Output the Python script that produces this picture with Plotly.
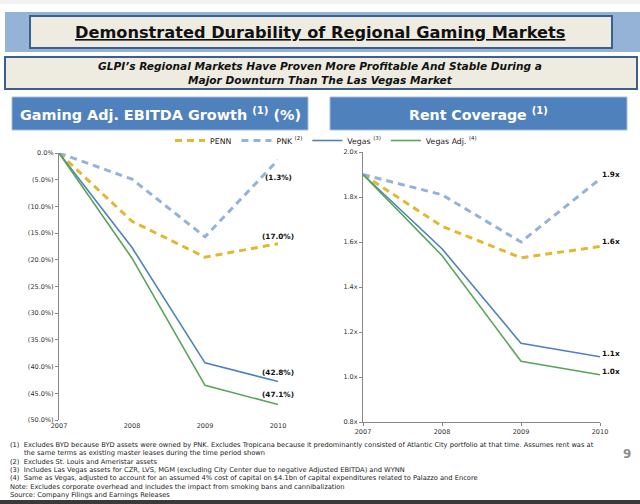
import plotly.graph_objects as go

# ---------------- data ----------------
years = [2007, 2008, 2009, 2010]

series_names = ["PENN", "PNK <sup>(2)</sup>", "Vegas <sup>(3)</sup>", "Vegas Adj. <sup>(4)</sup>"]

# Gaming Adj. EBITDA growth (%)
growth_penn = [0.0, -12.8, -19.5, -17.0]
growth_pnk = [0.0, -4.9, -15.7, -1.3]
growth_vegas = [0.0, -17.7, -39.3, -42.8]
growth_vegas_adj = [0.0, -19.7, -43.5, -47.1]
growth_labels = ["(17.0%)", "(1.3%)", "(42.8%)", "(47.1%)"]

# Rent coverage (x)
cov_penn = [1.90, 1.67, 1.53, 1.58]
cov_pnk = [1.90, 1.81, 1.60, 1.88]
cov_vegas = [1.90, 1.57, 1.15, 1.09]
cov_vegas_adj = [1.90, 1.54, 1.07, 1.01]
cov_labels = ["1.6x", "1.9x", "1.1x", "1.0x"]

growth_ticks = [0, -5, -10, -15, -20, -25, -30, -35, -40, -45, -50]
growth_ticktext = ["0.0%", "(5.0%)", "(10.0%)", "(15.0%)", "(20.0%)", "(25.0%)",
                   "(30.0%)", "(35.0%)", "(40.0%)", "(45.0%)", "(50.0%)"]
cov_ticks = [0.8, 1.0, 1.2, 1.4, 1.6, 1.8, 2.0]
cov_ticktext = ["0.8x", "1.0x", "1.2x", "1.4x", "1.6x", "1.8x", "2.0x"]
year_ticktext = ["2007", "2008", "2009", "2010"]

title_text = "Demonstrated Durability of Regional Gaming Markets"
subtitle_lines = ["GLPI\u2019s Regional Markets Have Proven More Profitable And Stable During a",
                  "Major Downturn Than The Las Vegas Market"]
left_header = "Gaming Adj. EBITDA Growth <sup>(1)</sup> (%)"
right_header = "Rent Coverage <sup>(1)</sup>"
footnotes = [
    ("(1)  Excludes BYD because BYD assets were owned by PNK. Excludes Tropicana because it predominantly consisted of Atlantic City portfolio at that time. Assumes rent was at", 0),
    ("the same terms as existing master leases during the time period shown", 1),
    ("(2)  Excludes St. Louis and Ameristar assets", 0),
    ("(3)  Includes Las Vegas assets for CZR, LVS, MGM (excluding City Center due to negative Adjusted EBITDA) and WYNN", 0),
    ("(4)  Same as Vegas, adjusted to account for an assumed 4% cost of capital on $4.1bn of capital expenditures related to Palazzo and Encore", 0),
    ("Note: Excludes corporate overhead and includes the impact from smoking bans and cannibalization", 0),
    ("Source: Company Filings and Earnings Releases", 0),
]
page_number = "9"

# ---------------- styling ----------------
W, H = 640, 504
FONT = "DejaVu Sans"
colors = ["#E2B833", "#95B3D7", "#4F81BD", "#5AA45A"]
dashes = ["7px,5px", "7px,5px", "solid", "solid"]
widths = [3, 3, 1.6, 1.6]
growth_label_shift = [7, -18, 9, 10]   # vertical offset of end labels (px, up positive)
cov_label_shift = [5, 5, 3, 3]


def px(x):
    return x / W


def py(y):
    return 1 - y / H


fig = go.Figure()

growth_series = [growth_penn, growth_pnk, growth_vegas, growth_vegas_adj]
cov_series = [cov_penn, cov_pnk, cov_vegas, cov_vegas_adj]

for i in range(4):
    fig.add_trace(go.Scatter(
        x=years, y=growth_series[i], name=series_names[i], mode="lines",
        line=dict(color=colors[i], width=widths[i], dash=dashes[i]),
        cliponaxis=False, xaxis="x", yaxis="y", showlegend=True,
    ))

for i in range(4):
    fig.add_trace(go.Scatter(
        x=years, y=cov_series[i], name=series_names[i], mode="lines",
        line=dict(color=colors[i], width=widths[i], dash=dashes[i]),
        cliponaxis=False, xaxis="x3", yaxis="y3", showlegend=False,
    ))

axis_font = dict(family=FONT, size=6.5, color="#333")
gray = "#888"

shapes = []


def rect(x0, y0, x1, y1, fill, line_color=None, lw=0):
    shapes.append(dict(type="rect", xref="paper", yref="paper",
                       x0=px(x0), x1=px(x1), y0=py(y1), y1=py(y0),
                       fillcolor=fill, layer="below",
                       line=dict(color=line_color or fill, width=lw)))


rect(0, 0, 640, 4, "#F2F2F2")
rect(5, 12, 640, 52, "#95B3D7")
rect(30, 16, 612, 48, "#EEECE1", "#3D5F8F", 2)
rect(5, 57, 637, 89, "#EEECE1", "#3D5F8F", 2)
rect(12, 97, 308, 130, "#4F81BD", "#A6BCDB", 1)
rect(330, 97, 627, 130, "#4F81BD", "#A6BCDB", 1)
rect(0, 500, 640, 504, "#3A3A3A")

annotations = [
    dict(text="<b><u>" + title_text + "</u></b>", x=px(320), y=py(32),
         font=dict(family=FONT, size=16.2, color="#111")),
    dict(text="<b><i>" + subtitle_lines[0] + "</i></b>", x=px(320), y=py(66),
         font=dict(family=FONT, size=10.6, color="#111")),
    dict(text="<b><i>" + subtitle_lines[1] + "</i></b>", x=px(320), y=py(80),
         font=dict(family=FONT, size=10.6, color="#111")),
    dict(text="<b>" + left_header + "</b>", x=px(160), y=py(114),
         font=dict(family=FONT, size=14.4, color="white")),
    dict(text="<b>" + right_header + "</b>", x=px(478), y=py(114),
         font=dict(family=FONT, size=14.2, color="white")),
    dict(text="<b>" + page_number + "</b>", x=px(627), y=py(454),
         font=dict(family=FONT, size=12, color="#8C8C8C")),
]
for k, (line, indent) in enumerate(footnotes):
    annotations.append(dict(text=line, x=px(8 + 14 * indent), y=py(445 + 8.3 * k),
                            xanchor="left", font=dict(family=FONT, size=6.7, color="#222")))
for a in annotations:
    a.update(xref="paper", yref="paper", showarrow=False)
    a.setdefault("xanchor", "center")
    a.setdefault("yanchor", "middle")

# end-of-line data labels, placed at the last data point of each series
for i in range(4):
    annotations.append(dict(
        text="<b>" + growth_labels[i] + "</b>", x=years[-1], y=growth_series[i][-1],
        xref="x", yref="y", showarrow=False, xanchor="center", yanchor="middle",
        yshift=growth_label_shift[i], font=dict(family=FONT, size=7.3, color="#111")))
    annotations.append(dict(
        text="<b>" + cov_labels[i] + "</b>", x=years[-1], y=cov_series[i][-1],
        xref="x3", yref="y3", showarrow=False, xanchor="left", yanchor="middle",
        yshift=cov_label_shift[i], font=dict(family=FONT, size=7.3, color="#111")))

fig.update_layout(
    width=W, height=H, margin=dict(l=0, r=0, t=0, b=0, autoexpand=False),
    paper_bgcolor="white", plot_bgcolor="white",
    font=dict(family=FONT),
    shapes=shapes, annotations=annotations,
    legend=dict(orientation="h", x=px(326), y=py(126), xanchor="center", yanchor="top",
                font=dict(family=FONT, size=7.8, color="#222"), bgcolor="rgba(0,0,0,0)",
                traceorder="normal", itemwidth=30, tracegroupgap=0),
    xaxis=dict(domain=[px(59), px(278)], range=[2007, 2010], tickvals=years,
               ticktext=year_ticktext, showline=False, showgrid=False, zeroline=False,
               ticks="", tickfont=axis_font, anchor="y", automargin=False),
    xaxis2=dict(overlaying="x", matches="x", side="top", anchor="y", showline=True,
                linecolor=gray, linewidth=1.2, ticks="outside", ticklen=3, tickcolor=gray,
                tickvals=years, showticklabels=False, showgrid=False, zeroline=False,
                range=[2007, 2010], automargin=False),
    yaxis=dict(domain=[py(420), py(153)], range=[-50, 0], tickvals=growth_ticks,
               ticktext=growth_ticktext, showline=True, linecolor=gray, linewidth=1.2,
               ticks="outside", ticklen=3, tickcolor=gray, showgrid=False, zeroline=False,
               tickfont=axis_font, anchor="x", automargin=False),
    xaxis3=dict(domain=[px(363), px(600)], range=[2007, 2010], tickvals=years,
                ticktext=year_ticktext, showline=True, linecolor=gray, linewidth=1.2,
                ticks="outside", ticklen=3, tickcolor=gray, showgrid=False, zeroline=False,
                tickfont=axis_font, anchor="y3", automargin=False),
    yaxis3=dict(domain=[py(422), py(152)], range=[0.8, 2.0], tickvals=cov_ticks,
                ticktext=cov_ticktext, showline=True, linecolor=gray, linewidth=1.2,
                ticks="outside", ticklen=3, tickcolor=gray, showgrid=False, zeroline=False,
                tickfont=axis_font, anchor="x3", automargin=False),
)

fig.write_html("out.html", config={"displayModeBar": False},
               post_script="document.body.style.margin='0';document.body.style.overflow='hidden';")
